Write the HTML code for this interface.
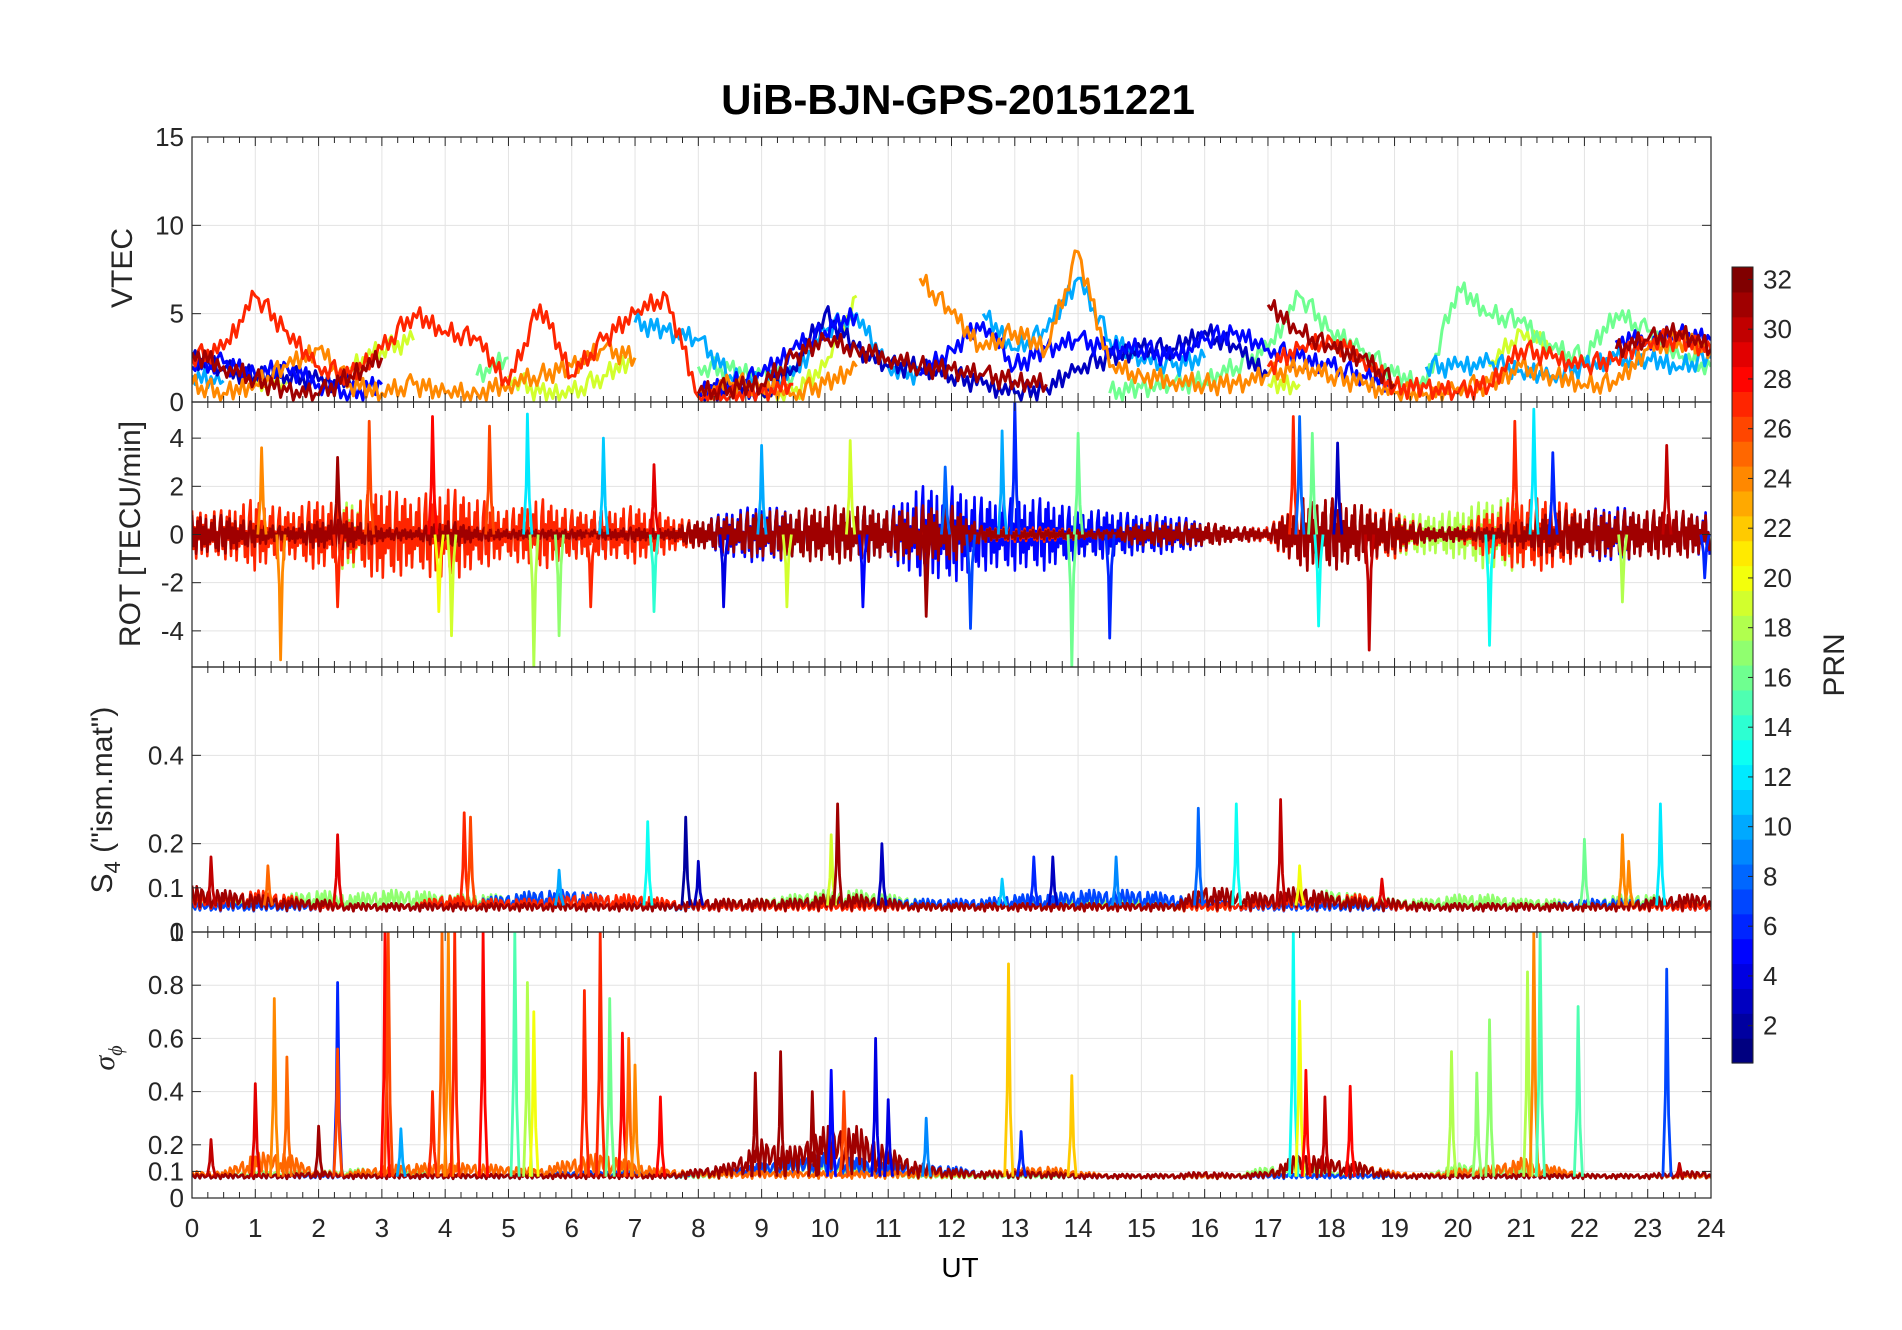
<!DOCTYPE html>
<html><head><meta charset="utf-8"><style>
html,body{margin:0;padding:0;background:#fff;}
svg{display:block;font-family:"Liberation Sans",sans-serif;}
</style></head><body>
<svg id="fig" width="1902" height="1330" viewBox="0 0 1902 1330" xmlns="http://www.w3.org/2000/svg">
<rect width="1902" height="1330" fill="#fff"/>
<text x="958" y="114" text-anchor="middle" font-size="42" font-weight="bold">UiB-BJN-GPS-20151221</text>
<g id="panels"></g>
<g id="cbar"></g>
<text x="960" y="1277" text-anchor="middle" font-size="28">UT</text>
</svg>
<script>
const NS="http://www.w3.org/2000/svg";
const n=null;
// ---- data ----
const hoursTicks=[0,1,2,3,4,5,6,7,8,9,10,11,12,13,14,15,16,17,18,19,20,21,22,23,24];
const vtecTicks=[0,5,10,15];
const rotTicks=[-4,-2,0,2,4];
const s4Ticks=[0,0.1,0.2,0.4];
const sigTicks=[0,0.1,0.2,0.4,0.6,0.8,1];
const prnTicks=[2,4,6,8,10,12,14,16,18,20,22,24,26,28,30,32];
// VTEC series sampled every 0.5 h (0..24)
const vtecPrns=[19,16,10,3,5,24,27,31];
const vtecP19=[n,n,1.0,1.0,n,2.0,3.0,3.5,n,n,1.5,0.5,0.5,1.5,2.5,n,n,n,0.5,0.5,2.0,6.0,n,n,n,n,n,n,n,n,n,n,n,n,1.0,1.0,n,n,n,n,n,2.0,4.0,3.0,n,n,n,n,n];
const vtecP16=[n,n,n,n,n,n,n,n,n,1.5,2.5,n,n,n,n,n,2.0,1.8,1.5,1.5,n,n,n,n,n,n,n,1.0,n,0.5,0.8,1.0,1.2,2.0,3.0,6.0,4.0,3.0,1.5,1.0,6.5,5.0,4.5,3.0,2.5,5.0,4.0,2.5,2.0];
const vtecP10=[1.5,1.2,n,n,n,n,n,n,1.5,n,n,n,n,n,4.5,4.0,3.5,1.5,1.0,1.5,4.0,5.0,2.0,1.5,n,5.0,3.0,4.0,7.0,3.5,2.5,2.0,2.5,n,n,n,n,n,n,2.0,2.0,2.2,1.8,1.5,2.0,2.5,2.5,2.0,2.5];
const vtecP3=[2.5,1.8,1.5,1.5,1.2,1.0,n,n,n,n,n,n,n,n,n,n,0.2,0.8,0.5,2.0,5.0,3.0,2.0,2.0,1.5,1.0,0.5,0.8,2.0,2.5,3.0,3.0,4.0,3.0,1.5,n,n,n,n,n,n,n,n,n,n,n,n,n,n];
const vtecP5=[2.0,2.2,1.5,2.0,1.0,0.5,1.0,n,n,n,n,n,n,n,n,n,0.5,1.0,1.5,3.0,4.0,5.0,n,1.5,3.0,4.5,2.0,3.0,3.5,3.0,3.0,2.5,3.5,4.0,3.0,2.5,2.0,1.5,1.0,n,n,n,n,n,n,3.5,3.5,3.8,3.5];
const vtecP24=[1.0,0.5,1.0,2.0,3.0,1.0,0.5,1.0,0.5,0.5,1.0,1.5,2.0,3.0,2.5,n,0.5,1.0,1.0,0.5,1.0,2.0,n,7.0,5.0,3.0,4.0,3.0,8.5,2.0,1.5,1.2,1.0,1.0,1.5,2.0,1.5,1.0,0.5,0.5,0.8,1.0,2.0,1.5,1.0,1.0,3.0,3.5,3.0];
const vtecP27=[2.5,3.0,6.0,4.0,2.0,1.5,3.0,5.0,4.0,3.5,1.0,5.5,1.5,3.5,5.0,6.0,0.3,0.3,0.5,1.0,n,n,n,n,n,n,n,n,n,n,n,n,n,n,2.0,3.0,3.5,2.5,0.8,0.8,0.5,1.0,3.0,2.5,2.0,2.5,3.5,3.5,3.0];
const vtecP31=[2.8,2.0,1.3,0.6,0.4,1.5,2.5,n,n,n,n,n,n,n,n,n,0.5,0.8,1.0,2.5,3.5,3.0,2.5,2.0,1.8,1.5,1.2,1.0,n,n,n,n,n,n,5.5,4.0,3.0,2.5,1.0,n,n,n,n,n,n,3.0,3.5,4.0,3.0];
// ROT envelopes (TECU/min amplitude every 0.5 h)
const rotPrns=[18,5,27,31];
const rotA18=[0.5,0.8,1.0,1.0,1.2,1.5,1.5,1.5,1.5,1.0,1.0,1.0,1.0,1.0,0.5,0.5,0.5,0.8,1.0,1.0,1.0,1.2,1.0,1.0,1.0,1.0,1.0,1.0,1.0,1.0,0.8,0.5,0.5,0.3,0.3,1.0,1.5,1.0,1.0,0.8,1.0,1.5,1.5,1.2,1.0,1.0,0.8,0.5,0.5];
const rotA5=[0.8,0.6,0.5,0.5,0.8,1.0,0.5,0.5,1.0,1.0,0.5,0.5,0.8,1.0,0.3,0.3,0.5,1.0,1.2,1.0,0.8,1.2,1.0,2.0,2.0,1.5,1.5,1.5,1.0,1.0,0.8,0.8,0.5,0.3,0.3,1.0,1.5,1.0,0.8,0.3,0.3,0.5,0.8,1.0,1.0,1.2,0.8,0.8,1.0];
const rotA27=[1.0,1.0,1.5,1.0,1.5,1.2,2.0,1.5,2.0,1.5,1.0,1.5,1.0,1.0,1.2,0.8,0.5,0.3,0.3,0.3,0.3,0.2,0.2,0.2,0.2,0.3,0.3,0.3,0.2,0.2,0.2,0.2,0.5,0.3,0.3,1.5,1.5,1.2,1.0,0.3,0.3,1.0,1.5,1.5,1.0,1.0,0.8,0.8,0.8];
const rotA31=[0.8,0.8,0.5,0.3,0.6,0.6,0.3,0.2,0.6,0.3,0.2,0.2,0.2,0.2,0.3,0.2,0.6,0.8,1.0,1.0,1.2,1.2,1.0,1.2,1.2,0.3,0.2,0.2,0.2,0.2,0.5,0.5,0.5,0.3,0.2,1.5,1.5,1.2,0.8,0.3,0.3,0.3,0.6,1.0,1.0,1.0,1.0,1.0,0.8];
const rotSpikeT=[1.4,1.1,2.3,2.3,2.8,3.8,3.9,4.1,4.7,5.3,5.4,5.8,6.3,6.5,7.3,7.3,8.4,9.0,9.4,10.4,10.6,11.6,11.9,12.3,12.8,13.0,14.0,13.9,14.5,17.4,17.5,17.7,17.8,18.1,18.6,20.5,20.9,21.2,21.5,22.6,23.3,23.9];
const rotSpikeV=[-5.2,3.6,3.2,-3,4.7,4.9,-3.2,-4.2,4.5,5.0,-5.5,-4.2,-3,4,2.9,-3.2,-3,3.7,-3,3.9,-3,-3.4,2.8,-3.9,4.3,5.5,4.2,-5.5,-4.3,4.9,4.9,4.2,-3.8,3.8,-4.8,-4.6,4.7,5.2,3.4,-2.8,3.7,-1.8];
const rotSpikeP=[24,24,31,27,26,28,20,19,26,12,18,17,27,11,29,14,4,10,19,19,5,31,8,7,10,6,16,16,6,27,8,16,13,3,30,13,27,12,6,18,30,6];
// S4 envelopes above ~0.05 baseline
const s4Prns=[17,7,27,31];
const s4A17=[0.02,0.03,0.03,0.04,0.05,0.04,0.05,0.05,0.04,0.04,0.04,0.05,0.04,0.04,0.03,0.02,0.02,0.03,0.03,0.04,0.05,0.05,0.04,0.03,0.02,0.03,0.03,0.03,0.03,0.03,0.03,0.02,0.02,0.02,0.03,0.04,0.05,0.04,0.03,0.03,0.04,0.04,0.03,0.03,0.02,0.04,0.04,0.03,0.02];
const s4A7=[0.02,0.02,0.02,0.02,0.02,0.02,0.02,0.02,0.03,0.03,0.04,0.05,0.05,0.04,0.03,0.02,0.02,0.02,0.02,0.03,0.03,0.03,0.03,0.03,0.03,0.03,0.04,0.04,0.05,0.05,0.05,0.04,0.03,0.02,0.02,0.02,0.02,0.02,0.02,0.02,0.02,0.02,0.02,0.02,0.03,0.03,0.03,0.02,0.02];
const s4A27=[0.04,0.04,0.05,0.04,0.02,0.02,0.02,0.02,0.04,0.03,0.03,0.03,0.04,0.04,0.04,0.03,0.02,0.02,0.02,0.02,0.02,0.02,0.02,0.02,0.02,0.02,0.02,0.02,0.02,0.02,0.02,0.02,0.02,0.02,0.03,0.04,0.04,0.04,0.02,0.02,0.02,0.02,0.02,0.02,0.02,0.02,0.02,0.02,0.02];
const s4A31=[0.06,0.05,0.04,0.03,0.03,0.02,0.02,0.02,0.02,0.02,0.02,0.02,0.02,0.02,0.02,0.02,0.03,0.03,0.03,0.03,0.04,0.04,0.03,0.02,0.02,0.02,0.02,0.02,0.02,0.02,0.02,0.02,0.06,0.05,0.04,0.06,0.04,0.03,0.03,0.02,0.02,0.02,0.02,0.02,0.02,0.02,0.03,0.04,0.04];
const s4SpikeT=[0.3,1.2,2.3,4.3,4.4,5.8,7.2,7.8,8.0,10.1,10.2,10.9,12.8,13.3,13.6,14.6,15.9,16.5,17.2,17.5,18.8,22.0,22.6,23.2,22.7];
const s4SpikeV=[0.17,0.15,0.22,0.27,0.26,0.14,0.25,0.26,0.16,0.22,0.29,0.2,0.12,0.17,0.17,0.17,0.28,0.29,0.3,0.15,0.12,0.21,0.22,0.29,0.16];
const s4SpikeP=[30,25,29,27,26,10,13,2,3,19,31,3,11,6,3,9,8,13,30,20,29,16,24,12,24];
// sigma-phi
const sigPrns=[17,7,25,31];
const sigA17=[0.02,0.02,0.03,0.03,0.03,0.04,0.04,0.03,0.02,0.02,0.02,0.02,0.03,0.03,0.04,0.02,0.02,0.03,0.05,0.08,0.08,0.06,0.03,0.02,0.02,0.02,0.02,0.02,0.02,0.02,0.02,0.02,0.02,0.02,0.05,0.06,0.03,0.02,0.02,0.02,0.06,0.05,0.04,0.02,0.02,0.02,0.02,0.02,0.02];
const sigA7=[0.02,0.02,0.02,0.02,0.02,0.02,0.02,0.02,0.02,0.02,0.02,0.02,0.03,0.03,0.03,0.02,0.03,0.04,0.06,0.08,0.1,0.08,0.06,0.06,0.05,0.03,0.03,0.03,0.02,0.02,0.02,0.02,0.02,0.02,0.02,0.02,0.02,0.02,0.02,0.02,0.02,0.02,0.02,0.02,0.02,0.02,0.02,0.02,0.02];
const sigA25=[0.03,0.03,0.1,0.1,0.03,0.03,0.05,0.06,0.06,0.06,0.05,0.04,0.08,0.1,0.06,0.04,0.03,0.03,0.03,0.03,0.03,0.03,0.03,0.03,0.03,0.03,0.04,0.05,0.03,0.02,0.02,0.02,0.02,0.02,0.03,0.1,0.08,0.06,0.03,0.02,0.04,0.05,0.08,0.05,0.02,0.02,0.02,0.02,0.02];
const sigA31=[0.02,0.02,0.02,0.02,0.03,0.02,0.02,0.02,0.02,0.02,0.02,0.02,0.02,0.02,0.02,0.02,0.04,0.06,0.15,0.12,0.2,0.2,0.12,0.06,0.04,0.03,0.03,0.03,0.02,0.02,0.02,0.02,0.03,0.02,0.03,0.1,0.08,0.06,0.02,0.02,0.02,0.02,0.02,0.02,0.02,0.02,0.02,0.03,0.03];
const sigSpikeT=[0.3,1.0,1.3,1.5,2.0,2.3,2.3,3.05,3.1,3.3,3.8,3.95,4.05,4.15,4.6,5.1,5.3,5.4,6.2,6.45,6.6,6.8,6.9,7.0,7.4,8.9,9.3,9.8,10.1,10.3,10.8,11.0,11.6,12.9,13.9,13.1,17.4,17.5,17.6,17.9,18.3,19.9,20.3,20.5,21.1,21.2,21.3,21.9,23.3,23.5];
const sigSpikeV=[0.22,0.43,0.75,0.53,0.27,0.81,0.56,1,1,0.26,0.4,1,1,1,1,1,0.81,0.7,0.78,1,0.75,0.62,0.6,0.5,0.38,0.47,0.55,0.4,0.48,0.4,0.6,0.37,0.3,0.88,0.46,0.25,1,0.74,0.48,0.38,0.42,0.55,0.47,0.67,0.85,1,1,0.72,0.86,0.13];
const sigSpikeP=[30,29,24,25,31,6,26,28,26,10,27,25,24,27,28,15,18,20,27,27,16,28,25,24,28,31,31,31,5,26,4,4,9,22,22,6,13,20,28,30,28,18,17,17,18,24,15,15,7,30];

// ---- layout ----
const L=192,R=1711;
const panels=[
 {name:'vtec',top:137,bot:402,min:0,max:15,ticks:vtecTicks},
 {name:'rot',top:402,bot:667,min:-5.5,max:5.5,ticks:rotTicks},
 {name:'s4',top:667,bot:932,min:0,max:0.6,ticks:s4Ticks},
 {name:'sigma',top:932,bot:1198,min:0,max:1,ticks:sigTicks}];
const xs=t=>L+(R-L)*t/24;
function ys(p,v){return p.bot-(p.bot-p.top)*(v-p.min)/(p.max-p.min);}
function jet(v){
 const f=Math.max(0,Math.min(1,(Math.round(v)-1)/31));
 const c=x=>Math.round(255*Math.max(0,Math.min(1,1.5-Math.abs(4*f-x))));
 return `rgb(${c(3)},${c(2)},${c(1)})`;}
const G=document.getElementById('panels');
function el(tag,attrs,parent){const e=document.createElementNS(NS,tag);for(const k in attrs)e.setAttribute(k,attrs[k]);(parent||G).appendChild(e);return e;}
const pat=[1,-0.6,0.3,-1,0.7,-0.2,0.9,-0.8,0.4,-0.5,0.8,-0.9,0.2,-0.4,0.6,-0.3,0.95,-0.7,0.1,-0.85,0.5];
function env(a,t){const i=Math.min(47,Math.floor(t/0.5));const f=t/0.5-i;return a[i]*(1-f)+a[i+1]*f;}

panels.forEach((p,pi)=>{
 const g=el('g',{});
 
 
 const clipId='clip'+pi;
 const cp=el('clipPath',{id:clipId},g);el('rect',{x:L,y:p.top,width:R-L,height:p.bot-p.top},cp);
 hoursTicks.forEach(h=>{const gl=el('line',{x1:xs(h),x2:xs(h),y1:p.top,y2:p.bot,stroke:'#e3e3e3','stroke-width':1},g);
  });
 p.ticks.forEach(v=>{const gl=el('line',{x1:L,x2:R,y1:ys(p,v),y2:ys(p,v),stroke:'#e3e3e3','stroke-width':1},g);
  });
 const dg=el('g',{'clip-path':`url(#${clipId})`,'stroke-linejoin':'round','fill':'none'},g);
 
 
 function line(pts,prn,w){if(pts.length<2)return;const pl=el('polyline',{points:pts.map(q=>q[0].toFixed(1)+','+q[1].toFixed(1)).join(' '),stroke:jet(prn),'stroke-width':w||3},dg);
  }
 function envBand(arr,prn,base,sym,step){let pts=[],k=0;
  for(let t=0;t<=24;t+=step){const a=env(arr,t);const s=pat[k%pat.length];k++;
   const v=sym?a*s:base+a*Math.abs(s);pts.push([xs(t),ys(p,v)]);}
  line(pts,prn,2.6);}
 function spikes(T,V,P,base){T.forEach((t,i)=>{const pts=[[xs(t-0.06),ys(p,base)],[xs(t-0.02),ys(p,base+(V[i]-base)*0.4)],[xs(t),ys(p,V[i])],[xs(t+0.03),ys(p,base+(V[i]-base)*0.3)],[xs(t+0.07),ys(p,base)]];line(pts,P[i],2.8);});}
 if(p.name==='vtec'){
  const ser=[vtecP19,vtecP16,vtecP10,vtecP3,vtecP5,vtecP24,vtecP27,vtecP31];
  ser.forEach((s,si)=>{let seg=[];
   for(let i=0;i<49;i++){const v=s[i];
    if(v===null||v===undefined){line(seg,vtecPrns[si]);seg=[];continue;}
    seg.push([xs(i*0.5),ys(p,v)]);
    if(i<48&&s[i+1]!==null&&s[i+1]!==undefined){
     for(let j=1;j<10;j++){const t=i*0.5+j*0.05;const vv=v+(s[i+1]-v)*j/10+0.6*pat[(i*10+j+si*3)%pat.length];seg.push([xs(t),ys(p,Math.max(0.1,vv))]);}}}
   line(seg,vtecPrns[si]);});
 } else if(p.name==='rot'){
  [rotA18,rotA5,rotA27,rotA31].forEach((a,i)=>envBand(a,rotPrns[i],0,true,0.022));
  spikes(rotSpikeT,rotSpikeV,rotSpikeP,0);
 } else if(p.name==='s4'){
  [s4A17,s4A7,s4A27,s4A31].forEach((a,i)=>envBand(a,s4Prns[i],0.045,false,0.025));
  spikes(s4SpikeT,s4SpikeV,s4SpikeP,0.06);
 } else {
  [sigA17,sigA7,sigA25,sigA31].forEach((a,i)=>envBand(a,sigPrns[i],0.07,false,0.025));
  spikes(sigSpikeT,sigSpikeV,sigSpikeP,0.08);
 }
 const bx=el('rect',{x:L,y:p.top,width:R-L,height:p.bot-p.top,fill:'none',stroke:'#262626','stroke-width':1.2},g);
 
 for(let t=0;t<=24.001;t+=0.25){const len=(Math.abs(t-Math.round(t))<1e-6)?9:6;
  el('line',{x1:xs(t),x2:xs(t),y1:p.top,y2:p.top+len,stroke:'#262626','stroke-width':1},g);
  el('line',{x1:xs(t),x2:xs(t),y1:p.bot,y2:p.bot-len,stroke:'#262626','stroke-width':1},g);}
 p.ticks.forEach(v=>{const y=ys(p,v);
  el('line',{x1:L,x2:L+9,y1:y,y2:y,stroke:'#262626'},g);el('line',{x1:R,x2:R-9,y1:y,y2:y,stroke:'#262626'},g);
  const tx=el('text',{x:L-8,y:y+9,'text-anchor':'end','font-size':26,fill:'#262626'},g);tx.textContent=String(v);
  });
});
hoursTicks.forEach(h=>{const tx=el('text',{x:xs(h),y:1237,'text-anchor':'middle','font-size':26,fill:'#262626'});tx.textContent=String(h);
 });
function ytitle(x,y,html,name){const t=el('text',{x:x,y:y,'text-anchor':'middle','font-size':30,fill:'#262626',transform:`rotate(-90 ${x} ${y})`});t.innerHTML=html;
 }
ytitle(132,268,'VTEC','vtec-axis-title');
ytitle(140,534,'ROT [TECU/min]','rot-axis-title');
ytitle(112,800,'S<tspan font-size="22" dy="8">4</tspan><tspan dy="-8"> ("ism.mat")</tspan>','s4-axis-title');
ytitle(114,1058,'<tspan font-family="Liberation Serif" font-style="italic">σ</tspan><tspan font-family="Liberation Serif" font-style="italic" font-size="20" dy="8">ϕ</tspan>','sigma-axis-title');
const CB=document.getElementById('cbar');
const cbT=267,cbB=1063,cbL=1732,cbW=21;
for(let k=1;k<=32;k++){const h=(cbB-cbT)/32;const r=el('rect',{x:cbL,y:cbB-k*h,width:cbW,height:h+0.6,fill:jet(k)},CB);
 }
el('rect',{x:cbL,y:cbT,width:cbW,height:cbB-cbT,fill:'none',stroke:'#262626','stroke-width':1},CB);
const cy=v=>cbB-(cbB-cbT)*(v-0.5)/32;
prnTicks.forEach(v=>{const y=Math.max(cbT+1,cy(v));el('line',{x1:cbL+cbW,x2:cbL+cbW-5,y1:y,y2:y,stroke:'#262626'},CB);
 const t=el('text',{x:cbL+cbW+10,y:y+9,'font-size':26,fill:'#262626'},CB);t.textContent=String(v);
 });
const pl=el('text',{x:1844,y:665,'text-anchor':'middle','font-size':30,fill:'#262626',transform:'rotate(-90 1844 665)'},CB);pl.textContent='PRN';

</script>
</body></html>
